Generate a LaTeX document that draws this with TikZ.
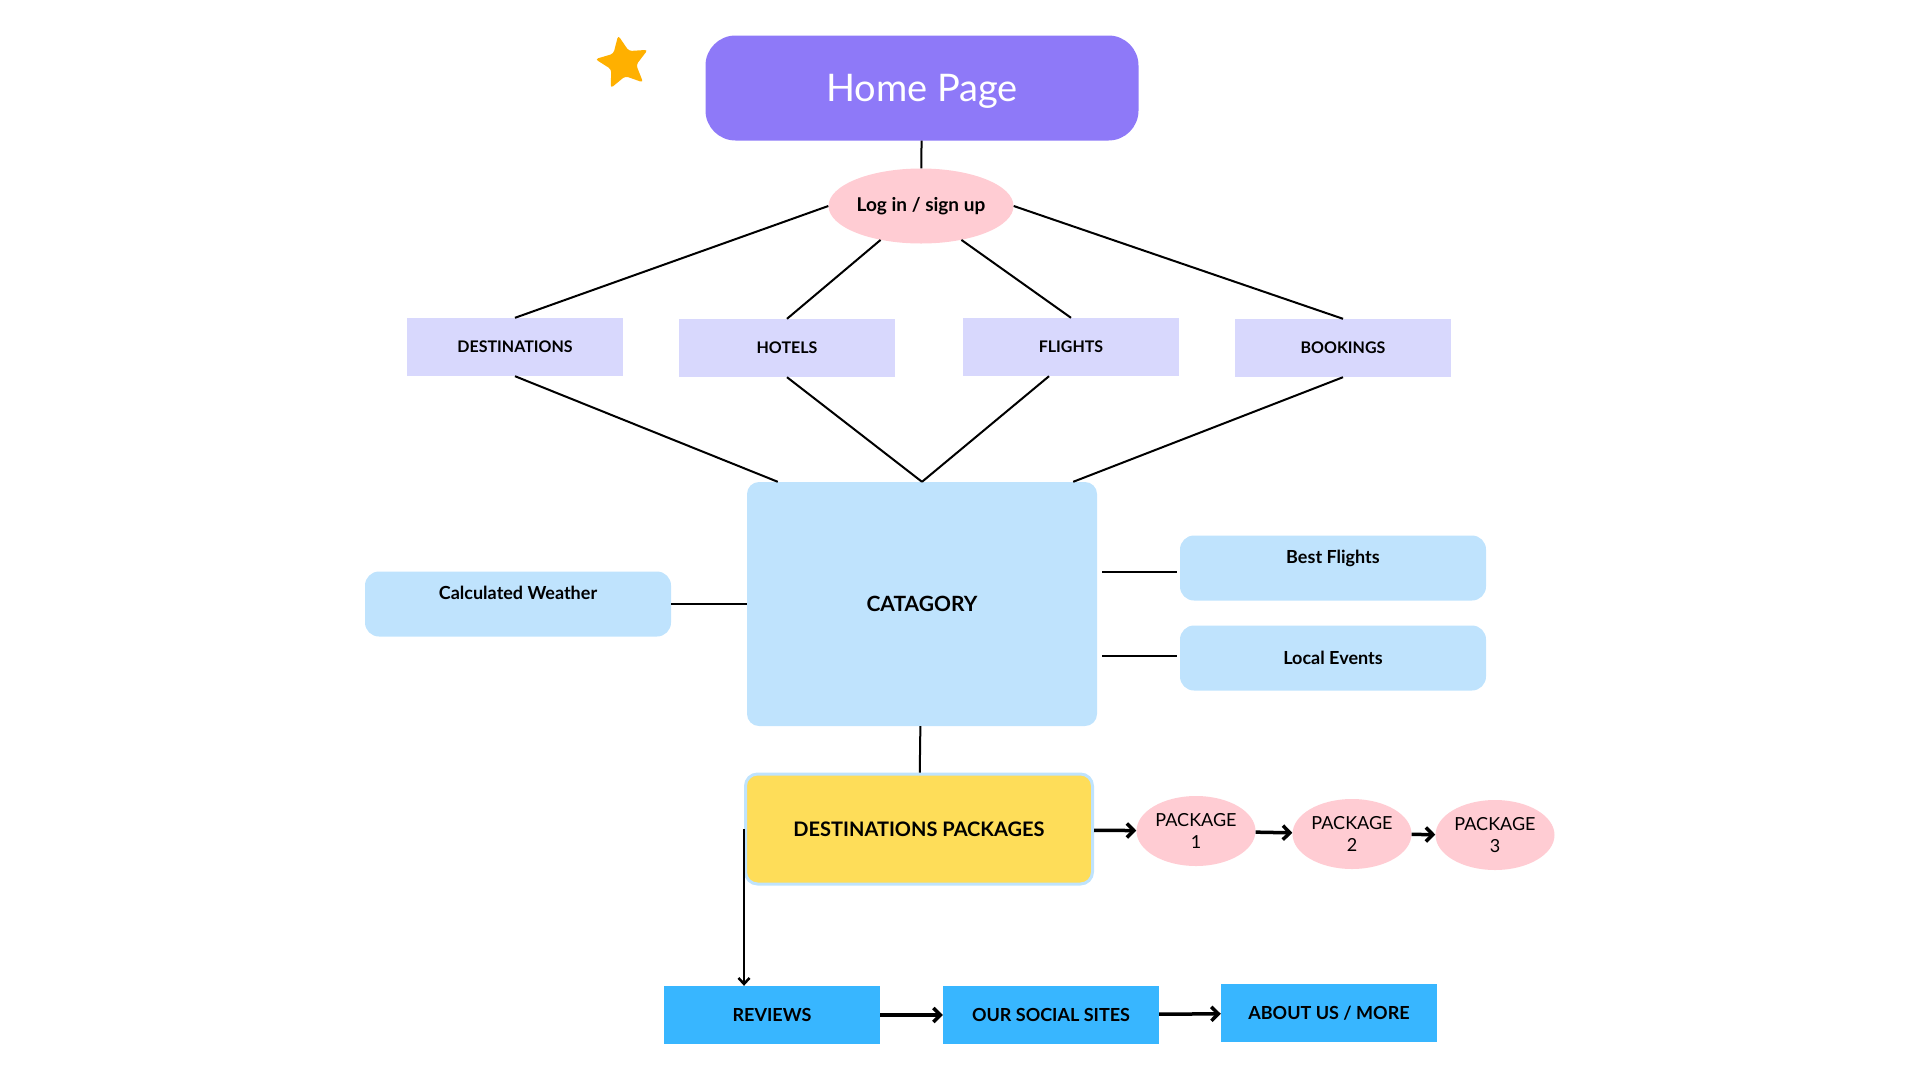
\documentclass[tikz,border=0pt]{standalone}
\usepackage{fontspec}
\setmainfont{Lato}
\usetikzlibrary{shapes.geometric,arrows.meta}

\definecolor{homepurple}{HTML}{8E79F8}
\definecolor{loginpink}{HTML}{FFCCD3}
\definecolor{menulav}{HTML}{D8D8FD}
\definecolor{catblue}{HTML}{BFE3FD}
\definecolor{dpyellow}{HTML}{FEDD59}
\definecolor{footblue}{HTML}{38B6FF}
\definecolor{starorange}{HTML}{FFB000}

\begin{document}
\begin{tikzpicture}[x=1pt, y=-1pt,
    homebox/.style={rectangle, rounded corners=30pt, fill=homepurple, text=white,
      minimum width=433pt, minimum height=105pt, inner sep=0pt, font=\fontsize{38}{44}\selectfont},
    loginoval/.style={ellipse, fill=loginpink, minimum width=185pt, minimum height=75pt,
      inner sep=0pt, font=\bfseries\fontsize{19}{22}\selectfont},
    menubox/.style={rectangle, fill=menulav, minimum width=216pt, minimum height=58pt,
      inner sep=0pt, font=\bfseries\fontsize{16}{19}\selectfont},
    catbox/.style={rectangle, rounded corners=12pt, fill=catblue, minimum width=350pt,
      minimum height=244pt, inner sep=0pt, font=\bfseries\fontsize{21}{24}\selectfont},
    sidebox/.style={rectangle, rounded corners=14pt, fill=catblue, minimum width=306pt,
      minimum height=65pt, inner sep=0pt, font=\bfseries\fontsize{18}{21}\selectfont},
    hightext/.style={text height=12pt, text depth=22pt},
    dpbox/.style={rectangle, rounded corners=12pt, fill=dpyellow, draw=catblue, line width=3pt,
      minimum width=347pt, minimum height=110pt, inner sep=0pt, font=\bfseries\fontsize{20}{24}\selectfont},
    pkgoval/.style={ellipse, fill=loginpink, minimum width=119pt, minimum height=70pt,
      inner sep=0pt, align=center, font=\fontsize{18}{22}\selectfont},
    footbox/.style={rectangle, fill=footblue, minimum width=216pt, minimum height=58pt,
      inner sep=0pt, font=\bfseries\fontsize{18}{21}\selectfont},
    link/.style={line width=2pt},
    flow/.style={-{Straight Barb[length=7pt, width=14pt]}, line width=3.5pt}]

    \useasboundingbox (0,0) rectangle (1920,1080);

    \node[star, star points=5, star point ratio=2.1, minimum size=56pt, inner sep=0pt,
      fill=starorange, rounded corners=3pt, rotate=10] (star1) at (623,63) {};

    \node[homebox, text height=35pt, text depth=8pt] (home) at (922,88) {Home Page};
    \node[loginoval] (login) at (921,206) {Log in / sign up};

    \node[menubox] (dest) at (515,347) {DESTINATIONS};
    \node[menubox] (hotels) at (787,348) {HOTELS};
    \node[menubox] (flights) at (1071,347) {FLIGHTS};
    \node[menubox] (bookings) at (1343,348) {BOOKINGS};

    \node[catbox] (cat) at (922,604) {CATAGORY};
    \node[sidebox, hightext] (weather) at (518,604) {Calculated Weather};
    \node[sidebox, hightext] (bestfl) at (1333,568) {Best Flights};
    \node[sidebox] (events) at (1333,658) {Local Events};

    \node[dpbox] (dp) at (919,829) {DESTINATIONS PACKAGES};
    \node[pkgoval] (pkga) at (1196,831) {PACKAGE\\1};
    \node[pkgoval] (pkgb) at (1352,834) {PACKAGE\\2};
    \node[pkgoval] (pkgc) at (1495,835) {PACKAGE\\3};

    \node[footbox] (reviews) at (772,1015) {REVIEWS};
    \node[footbox] (social) at (1051,1015) {OUR SOCIAL SITES};
    \node[footbox] (about) at (1329,1013) {ABOUT US / MORE};

    % top part
    \draw[link] (home) -- (login);
    \draw[link] (login.west) -- (dest.north);
    \draw[link] (login.220) -- (hotels.north);
    \draw[link] (login.320) -- (flights.north);
    \draw[link] (login.east) -- (bookings.north);

    \draw[link] (dest.south) -- ([xshift=31pt]cat.north west);
    \draw[link] (hotels.south) -- (cat.north);
    \draw[link] ([xshift=-22pt]flights.south) -- (cat.north);
    \draw[link] (bookings.south) -- ([xshift=-24pt]cat.north east);

    % side boxes
    \draw[link] (weather) -- (cat);
    \draw[link] ([xshift=5pt]cat.east |- 0,572) -- ([xshift=-3pt]bestfl.west |- 0,572);
    \draw[link] ([xshift=5pt]cat.east |- 0,656) -- ([xshift=-3pt]events.west |- 0,656);
    \draw[link] (cat) -- (dp);

    % packages and footer
    \draw[flow] (dp) -- (pkga);
    \draw[flow] (pkga) -- (pkgb);
    \draw[flow] (pkgb) -- (pkgc);
    \draw[-{Straight Barb[length=6pt, width=11pt]}, line width=2.5pt] (dp.west) -- (dp.west |- reviews.north);
    \draw[flow] (reviews) -- (social);
    \draw[flow] (social) -- (about);
  \end{tikzpicture}
\end{document}
